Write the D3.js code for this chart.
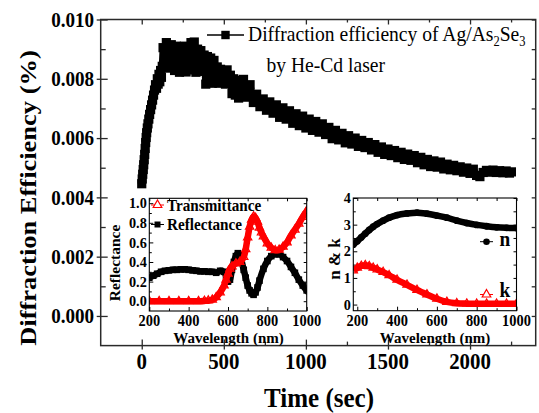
<!DOCTYPE html>
<html><head><meta charset="utf-8">
<script src="https://cdn.jsdelivr.net/npm/d3@7"></script>
<style>
body{margin:0;background:#fff}
svg{display:block}
text{font-family:"Liberation Serif","Times New Roman",serif;fill:#000}
</style>
</head><body>
<svg id="c" width="539" height="413"></svg>
<script>
// ---------------- data ----------------
const timeSec = [0,3,6,9,12,15,18,21,24,27,30,34,38,43,48,54,60,66,72,78,84,90,95,100,105,110,115,120,125,
130,140,150,160,170,180,190,200,210,220,230,240,250,260,270,280,290,300,310,320,330,340,350,360,370,380,390,400,
410,420,430,440,450,460,470,480,490,500,510,520,530,540,550,560,570,580,590,600,
620,640,660,680,700,720,740,760,780,800,
820,840,860,880,900,920,940,960,980,1000,
1020,1040,1060,1080,1100,1120,1140,1160,1180,1200,
1220,1240,1260,1280,1300,1320,1340,1360,1380,1400,
1420,1440,1460,1480,1500,1520,1540,1560,1580,1600,
1620,1640,1660,1680,1700,1720,1740,1760,1780,1800,
1820,1840,1860,1880,1900,1920,1940,1960,1980,2000,
2020,2040,2060,2080,2100,2120,2140,2160,2180,2200,
2220,2240,2252];
const diffEff = [.00446,.00462,.00478,.00494,.00510,.00527,.00545,.00565,.00585,.00602,.00618,.00634,.00648,.00664,.00680,.00696,.00712,.00728,.00745,.00762,.00780,.00768,.00800,.00782,.00815,.00790,.00828,.00805,.00842,
.00905,.00840,.00922,.00870,.00836,.00915,.00860,.00828,.00910,.00875,.00822,.00905,.00850,.00910,.00823,.00880,.00830,.00922,.00865,.00924,.00822,.00900,.00850,.00895,.00825,.00880,.00782,.00875,
.00830,.00870,.00785,.00862,.00810,.00840,.00785,.00832,.00790,.00825,.00782,.00830,.00795,.00812,.00750,.00800,.00745,.00795,.00735,.00780,
.00798,.00738,.00780,.00720,.00748,.00706,.00732,.00694,.00722,.00684,
.00712,.00670,.00702,.00664,.00692,.00650,.00682,.00642,.00674,.00634,
.00664,.00626,.00656,.00620,.00648,.00612,.00636,.00598,.00626,.00594,
.00616,.00584,.00608,.00580,.00600,.00572,.00592,.00568,.00585,.00560,
.00578,.00552,.00570,.00545,.00563,.00541,.00558,.00534,.00552,.00528,
.00546,.00525,.00541,.00517,.00535,.00510,.00528,.00504,.00523,.00502,
.00519,.00496,.00512,.00493,.00508,.00490,.00503,.00485,.00499,.00481,
.00495,.00474,.00470,.00484,.00491,.00485,.00492,.00484,.00490,.00483,
.00489,.00482,.00486];
const timeTicks = [0,500,1000,1500,2000];
const effTicks = [0.000,0.002,0.004,0.006,0.008,0.010];
const effTickLabels = ["0.000","0.002","0.004","0.006","0.008","0.010"];

const wavelengthR = [200,220,240,260,280,300,320,340,360,380,400,420,440,460,480,500,520,540,560,580,590,600,610,620,630,640,650,660,670,680,690,700,710,720,730,740,750,760,780,800,820,840,860,880,900,920,940,960,980,1000];
const reflectance = [.24,.26,.28,.30,.31,.315,.32,.32,.325,.325,.32,.315,.31,.305,.305,.30,.30,.29,.31,.30,.26,.20,.22,.32,.40,.46,.49,.47,.40,.32,.24,.16,.11,.08,.065,.09,.14,.21,.33,.41,.46,.48,.48,.45,.41,.35,.29,.22,.16,.11];
const wavelengthT = [200,250,300,350,400,450,480,500,520,540,560,580,590,600,610,620,640,660,680,690,700,710,720,730,740,750,760,770,780,800,820,840,860,880,900,920,940,960,980,1000];
const transmittance = [0,0,0,0,0,0,.003,.006,.015,.04,.09,.16,.22,.28,.33,.355,.385,.40,.45,.53,.65,.76,.83,.865,.85,.81,.75,.70,.66,.59,.545,.52,.525,.555,.60,.67,.73,.79,.86,.92];
const rtXTicks = [200,400,600,800,1000];
const rtYTicks = [0,0.2,0.4,0.6,0.8,1.0];

const wavelengthNK = [180,200,220,240,260,280,300,330,360,400,450,500,550,600,650,700,750,800,850,900,950,1000];
const nIndex = [2.25,2.38,2.52,2.66,2.80,2.92,3.02,3.15,3.26,3.36,3.42,3.45,3.41,3.34,3.26,3.15,3.06,2.99,2.94,2.90,2.88,2.87];
const kIndex = [1.28,1.38,1.45,1.48,1.44,1.38,1.32,1.22,1.10,0.93,0.74,0.55,0.38,0.22,0.10,0.05,0.035,0.03,0.03,0.03,0.03,0.035];
const nkXTicks = [200,400,600,800,1000];
const nkYTicks = [0,1,2,3,4];

// ---------------- helpers ----------------
const FONT = '"Liberation Serif","Times New Roman",serif';
const svg = d3.select('#c');
function label(parent, x, y, str, o = {}) {
  const size = o.size || 16, sx = o.sx || 1, rot = o.rotate || 0;
  let tr = `translate(${x},${y})`;
  tr += rot ? ` rotate(${rot}) scale(1,${sx})` : ` scale(${sx},1)`;
  return parent.append('text')
    .attr('transform', tr)
    .attr('font-family', FONT)
    .attr('text-anchor', o.anchor || 'middle')
    .attr('font-size', size)
    .attr('font-weight', o.weight || 'bold')
    .text(str);
}

// ---------------- main chart ----------------
const M = {l:100.7, r:535.7, t:19.5, b:345.6};
const x = d3.scaleLinear().domain([-250, 2400]).range([M.l, M.r]);
const y = d3.scaleLinear().domain([-0.001, 0.010]).range([M.b, M.t]);
const frameCol = '#2a2a2a';

const g = svg.append('g');
const xMinor = d3.range(-250, 2401, 250).filter(v => !timeTicks.includes(v) && v > -250 && v < 2400);
const yMinor = [0.001,0.003,0.005,0.007,0.009];

function styleAxis(sel){ sel.select('.domain').remove(); sel.selectAll('line').attr('stroke', frameCol).attr('stroke-width', 1.3); sel.selectAll('text').remove(); }
g.append('g').attr('transform',`translate(0,${M.b})`).call(d3.axisBottom(x).tickValues(timeTicks).tickSize(-6)).call(styleAxis)
  .selectAll('line').attr('y1', 4);
g.append('g').attr('transform',`translate(0,${M.b})`).call(d3.axisBottom(x).tickValues(xMinor).tickSize(-4)).call(styleAxis);
g.append('g').attr('transform',`translate(0,${M.t})`).call(d3.axisTop(x).tickValues(timeTicks).tickSize(-5)).call(styleAxis);
g.append('g').attr('transform',`translate(0,${M.t})`).call(d3.axisTop(x).tickValues(xMinor).tickSize(-3)).call(styleAxis);
g.append('g').attr('transform',`translate(${M.l},0)`).call(d3.axisLeft(y).tickValues(effTicks).tickSize(-7)).call(styleAxis)
  .selectAll('line').attr('x1', -4);
g.append('g').attr('transform',`translate(${M.l},0)`).call(d3.axisLeft(y).tickValues(yMinor).tickSize(-5)).call(styleAxis);
g.append('g').attr('transform',`translate(${M.r},0)`).call(d3.axisRight(y).tickValues(effTicks.concat(yMinor)).tickSize(-4)).call(styleAxis);

g.append('rect').attr('x', M.l).attr('y', M.t).attr('width', M.r - M.l).attr('height', M.b - M.t)
  .attr('fill', 'none').attr('stroke', frameCol).attr('stroke-width', 1.5);

// tick labels
timeTicks.forEach(t => label(g, x(t), 369, String(t), {size:23.5, sx:0.89}));
effTicks.forEach((v,i) => label(g, 94, y(v) + 7.2, effTickLabels[i], {size:20.5, sx:0.93, anchor:'end'}));
label(g, 319, 406.5, 'Time (sec)', {size:27.5, sx:0.91});
label(g, 36, 198, 'Diffraction Efficiency (%)', {size:26.5, sx:0.9, rotate:-90});

// main series
const pts = timeSec.map((t,i) => [t, diffEff[i]]);
g.append('path').datum(pts)
  .attr('d', d3.line().x(d => x(d[0])).y(d => y(d[1])))
  .attr('fill','none').attr('stroke','#000').attr('stroke-width',7).attr('stroke-linejoin','round');
const sq = 9.2;
g.append('g').selectAll('rect').data(pts).join('rect')
  .attr('x', d => x(d[0]) - sq/2).attr('y', d => y(d[1]) - sq/2)
  .attr('width', sq).attr('height', sq).attr('fill','#000');

// main legend
const lg = g.append('g');
lg.append('line').attr('x1',207).attr('x2',244).attr('y1',35).attr('y2',35).attr('stroke','#000').attr('stroke-width',1.3);
lg.append('rect').attr('x',225.5-4.2).attr('y',35-4.2).attr('width',8.4).attr('height',8.4).attr('fill','#000');
const lt = label(lg, 248, 40.8, '', {size:22, sx:0.89, anchor:'start', weight:'normal'});
lt.append('tspan').text('Diffraction efficiency of Ag/As');
lt.append('tspan').attr('font-size',14).attr('dy',5).text('2');
lt.append('tspan').attr('dy',-5).text('Se');
lt.append('tspan').attr('font-size',14).attr('dy',5).text('3');
label(lg, 266.5, 72, 'by He-Cd laser', {size:22, sx:0.89, anchor:'start', weight:'normal'});

// ---------------- inset helper ----------------
function inset(box, xd, yd, xt, xMinorT, yt, yMinorT, yFmt) {
  const ig = svg.append('g');
  const ix = d3.scaleLinear().domain(xd).range([box.l, box.r]);
  const iy = d3.scaleLinear().domain(yd).range([box.b, box.t]);
  ig.append('rect').attr('x',box.l).attr('y',box.t).attr('width',box.r-box.l).attr('height',box.b-box.t).attr('fill','#fff');
  const st = sel => { sel.select('.domain').remove(); sel.selectAll('line').attr('stroke','#000').attr('stroke-width',1); sel.selectAll('text').remove(); };
  ig.append('g').attr('transform',`translate(0,${box.b})`).call(d3.axisBottom(ix).tickValues(xt).tickSize(-4)).call(st);
  ig.append('g').attr('transform',`translate(0,${box.b})`).call(d3.axisBottom(ix).tickValues(xMinorT).tickSize(-2.5)).call(st);
  ig.append('g').attr('transform',`translate(0,${box.t})`).call(d3.axisTop(ix).tickValues(xt.concat(xMinorT)).tickSize(-3)).call(st);
  ig.append('g').attr('transform',`translate(${box.l},0)`).call(d3.axisLeft(iy).tickValues(yt).tickSize(-4)).call(st);
  ig.append('g').attr('transform',`translate(${box.l},0)`).call(d3.axisLeft(iy).tickValues(yMinorT).tickSize(-2.5)).call(st);
  ig.append('g').attr('transform',`translate(${box.r},0)`).call(d3.axisRight(iy).tickValues(yt.concat(yMinorT)).tickSize(-3)).call(st);
  xt.forEach(v => label(ig, ix(v), 326.3, String(v), {size:16, sx:0.9}));
  yt.forEach(v => label(ig, box.l - 2.5, iy(v) + 5.2, yFmt(v), {size:15.5, sx:0.92, anchor:'end'}));
  return {ig, ix, iy};
}
function clipFor(id, box){
  svg.append('clipPath').attr('id', id).append('rect').attr('x',box.l).attr('y',box.t).attr('width',box.r-box.l).attr('height',box.b-box.t);
}

// ---------------- inset 1: reflectance / transmittance ----------------
const B1 = {l:149.3, r:306.7, t:198.3, b:311};
const I1 = inset(B1, [200,1000], [-0.1,1.05], rtXTicks, [300,500,700,900], rtYTicks, [0.1,0.3,0.5,0.7,0.9], d3.format('.1f'));
clipFor('c1', B1);
const d1 = I1.ig.append('g').attr('clip-path','url(#c1)');
const rPts = wavelengthR.map((w,i)=>[w, reflectance[i]]);
const tPts = wavelengthT.map((w,i)=>[w, transmittance[i]]);
const l1 = d3.line().curve(d3.curveMonotoneX).x(d=>I1.ix(d[0])).y(d=>I1.iy(d[1]));
d1.append('path').datum(rPts).attr('d', l1).attr('fill','none').attr('stroke','#000').attr('stroke-width',6.5).attr('stroke-linecap','square');
d1.append('g').selectAll('rect').data(rPts).join('rect')
  .attr('x',d=>I1.ix(d[0])-3.3).attr('y',d=>I1.iy(d[1])-3.3).attr('width',6.6).attr('height',6.6).attr('fill','#000');
d1.append('path').datum(tPts).attr('d', l1).attr('fill','none').attr('stroke','#ff0000').attr('stroke-width',6.5).attr('stroke-linecap','square');
const tri = d3.symbol().type(d3.symbolTriangle).size(30);
d1.append('g').selectAll('path').data(tPts).join('path')
  .attr('transform',d=>`translate(${I1.ix(d[0])},${I1.iy(d[1])})`).attr('d',tri)
  .attr('fill','none').attr('stroke','#ff0000').attr('stroke-width',1.2);
label(I1.ig, 228.5, 343.3, 'Wavelength (nm)', {size:15, sx:1});
label(I1.ig, 115, 263, 'Reflectance', {size:15.5, sx:0.95, rotate:-90}).attr('dy', 5);
// legend
I1.ig.append('line').attr('x1',151).attr('x2',164).attr('y1',205).attr('y2',205).attr('stroke','#ff0000').attr('stroke-width',1);
I1.ig.append('path').attr('transform','translate(157.5,205)').attr('d',d3.symbol().type(d3.symbolTriangle).size(32)).attr('fill','#fff').attr('stroke','#ff0000').attr('stroke-width',1.2);
label(I1.ig, 167, 210.5, 'Transmittance', {size:16, sx:0.95, anchor:'start'});
I1.ig.append('line').attr('x1',151).attr('x2',164).attr('y1',224.5).attr('y2',224.5).attr('stroke','#000').attr('stroke-width',1);
I1.ig.append('rect').attr('x',157.5-3).attr('y',224.5-3).attr('width',6).attr('height',6).attr('fill','#000');
label(I1.ig, 167, 230, 'Reflectance', {size:16, sx:0.95, anchor:'start'});
I1.ig.append('rect').attr('x',B1.l).attr('y',B1.t).attr('width',B1.r-B1.l).attr('height',B1.b-B1.t).attr('fill','none').attr('stroke','#000').attr('stroke-width',1.1);

// ---------------- inset 2: n & k ----------------
const B2 = {l:353.3, r:516.5, t:198, b:310.7};
const I2 = inset(B2, [180,1000], [-0.23,4], nkXTicks, [300,500,700,900], nkYTicks, [0.5,1.5,2.5,3.5], d3.format('d'));
clipFor('c2', B2);
const d2 = I2.ig.append('g').attr('clip-path','url(#c2)');
const nPts = wavelengthNK.map((w,i)=>[w, nIndex[i]]);
const kPts = wavelengthNK.map((w,i)=>[w, kIndex[i]]);
const l2 = d3.line().curve(d3.curveMonotoneX).x(d=>I2.ix(d[0])).y(d=>I2.iy(d[1]));
d2.append('path').datum(nPts).attr('d', l2).attr('fill','none').attr('stroke','#000').attr('stroke-width',6.5);
d2.append('g').selectAll('circle').data(nPts).join('circle')
  .attr('cx',d=>I2.ix(d[0])).attr('cy',d=>I2.iy(d[1])).attr('r',3.4).attr('fill','#000');
d2.append('path').datum(kPts).attr('d', l2).attr('fill','none').attr('stroke','#ff0000').attr('stroke-width',6.5);
d2.append('g').selectAll('path').data(kPts).join('path')
  .attr('transform',d=>`translate(${I2.ix(d[0])},${I2.iy(d[1])})`).attr('d',tri)
  .attr('fill','none').attr('stroke','#ff0000').attr('stroke-width',1.2);
label(I2.ig, 435, 343.3, 'Wavelength (nm)', {size:15, sx:1});
label(I2.ig, 335, 259, 'n & k', {size:17, sx:0.95, rotate:-90}).attr('dy', 5);
// legend
I2.ig.append('line').attr('x1',480).attr('x2',493).attr('y1',241.7).attr('y2',241.7).attr('stroke','#000').attr('stroke-width',1);
I2.ig.append('circle').attr('cx',486.5).attr('cy',241.7).attr('r',3.3).attr('fill','#000');
label(I2.ig, 499.5, 245.5, 'n', {size:21, sx:0.92, anchor:'start'});
I2.ig.append('line').attr('x1',480).attr('x2',493).attr('y1',294.5).attr('y2',294.5).attr('stroke','#ff0000').attr('stroke-width',1);
I2.ig.append('path').attr('transform','translate(486.5,294.5)').attr('d',d3.symbol().type(d3.symbolTriangle).size(32)).attr('fill','#fff').attr('stroke','#ff0000').attr('stroke-width',1.2);
label(I2.ig, 499.5, 297, 'k', {size:21, sx:0.92, anchor:'start'});
I2.ig.append('rect').attr('x',B2.l).attr('y',B2.t).attr('width',B2.r-B2.l).attr('height',B2.b-B2.t).attr('fill','none').attr('stroke','#000').attr('stroke-width',1.1);
</script>
</body></html>
